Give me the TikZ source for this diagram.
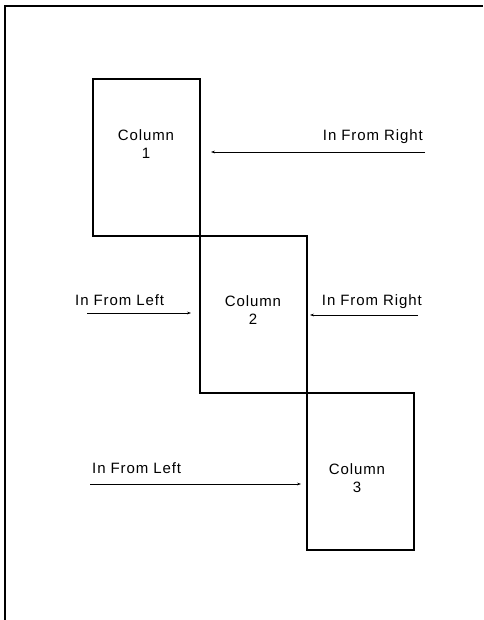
\documentclass[tikz,border=0pt]{standalone}
\usepackage{fontspec}
\setmainfont{Liberation Sans}[LetterSpace=6]
\usepackage{tikz}
\usetikzlibrary{positioning,arrows.meta}

\tikzset{
  colbox/.style={draw, line width=1.6pt, minimum width=107pt, minimum height=157pt, inner sep=0pt, outer sep=0pt},
  feed/.style={line width=0.8pt, -{Stealth[length=4pt,width=2.8pt]}},
  lbl/.style={inner sep=0pt, font=\fontsize{15}{18}\selectfont}
}

\begin{document}
\begin{tikzpicture}[x=1pt, y=-1pt]
  \useasboundingbox (0,0) rectangle (483,620);
  \draw[line width=2pt] (5,620) -- (5,6) -- (483,6);
  % the three columns, corner to corner
  \node[colbox, anchor=north west] (col1) at (93,79) {};
  \node[colbox, anchor=north west] (col2) at (col1.south east) {};
  \node[colbox, anchor=north west] (col3) at (col2.south east) {};
  \node[lbl, align=center] (t1) at (146,144) {Column\\1};
  \node[lbl, align=center] (t2) at (253,310) {Column\\2};
  \node[lbl, align=center] (t3) at (357,478) {Column\\3};
  % inputs
  \node[lbl, anchor=base east] (r1) at (423,141) {In From Right};
  \node[lbl, anchor=base west] (l2) at (75,305) {In From Left};
  \node[lbl, anchor=base east] (r2) at (422,305) {In From Right};
  \node[lbl, anchor=base west] (l3) at (92,473) {In From Left};
  \coordinate (r1s) at (425,152);
  \coordinate (l2s) at (87,313);
  \coordinate (r2s) at (418,315);
  \coordinate (l3s) at (90,484);
  \draw[feed, shorten >=11pt] (r1s) -- (r1s -| col1.east);
  \draw[feed, shorten >=9pt] (l2s) -- (l2s -| col2.west);
  \draw[feed, shorten >=3pt] (r2s) -- (r2s -| col2.east);
  \draw[feed, shorten >=6pt] (l3s) -- (l3s -| col3.west);
\end{tikzpicture}
\end{document}
